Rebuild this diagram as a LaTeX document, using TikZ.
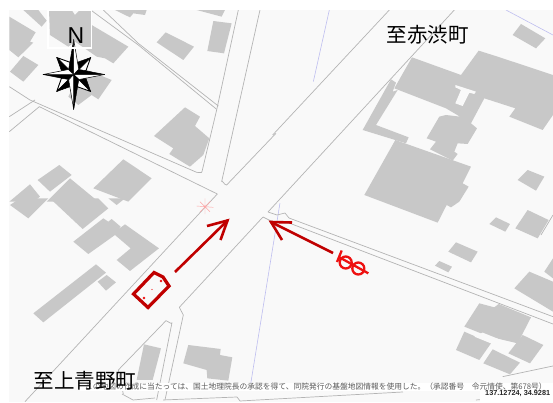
\documentclass[tikz,border=0pt]{standalone}
\usepackage{fontspec}
\setmainfont{Liberation Sans}
\newfontfamily\cjk{Noto Sans CJK JP}
\usetikzlibrary{arrows.meta}
\definecolor{mapbg}{HTML}{F9F9F9}
\definecolor{bld}{HTML}{C8C8C8}
\definecolor{roadc}{HTML}{B4B4B4}
\definecolor{arrowred}{HTML}{C00000}
\definecolor{markred}{HTML}{EE1111}
\definecolor{thinblue}{HTML}{BEBEF0}
\tikzset{
  zone/.style={shift={(#1)},x=0.3333pt,y=-0.3333pt},
  building/.style={fill=bld,draw=none},
  road/.style={draw=roadc,line width=0.7pt,line join=round},
  waterline/.style={draw=thinblue,line width=0.6pt},
  placename/.style={font=\cjk\fontsize{20.5}{22}\selectfont,text=black,inner sep=0pt},
  routearrow/.style={draw=arrowred,line width=2.6pt,line join=miter},
  starline/.style={draw=black,line width=0.5pt,line join=round},
}
\begin{document}
\begin{tikzpicture}[x=1pt,y=-1pt]
\useasboundingbox (0,0) rectangle (553,402);
\fill[white] (0,0) rectangle (553,402);
\begin{scope}
\clip (9,10) rectangle (553,402);
\fill[mapbg] (9,10) rectangle (553,402);
% top-left quadrant
\begin{scope}[zone={0,0}]
\fill[building] (28,50)--(107,97)--(90,125)--(100,128)--(55,172)--(28,150)--cycle;
\fill[building] (70,30)--(125,80)--(140,62)--(115,30)--cycle;
\fill[building] (30,215)--(70,168)--(115,195)--(70,245)--cycle;
\fill[building] (147,30)--(215,30)--(225,45)--(240,30)--(275,30)--(275,75)--(385,140)--(340,190)--(315,175)--(290,170)--(225,125)--(205,140)--(150,105)--cycle;
\fill[building] (250,205)--(335,240)--(295,298)--(275,285)--(235,315)--(205,290)--cycle;
\fill[building] (470,127)--(497,97)--(582,140)--(550,180)--cycle;
\fill[building] (622,153)--(640,63)--(695,70)--(672,160)--cycle;
\fill[building] (345,30)--(440,30)--(435,45)--(400,40)--(390,52)--cycle;
\fill[building] (590,30)--(675,30)--(665,50)--cycle;
\fill[building] (462,408)--(555,322)--(600,350)--(585,378)--(628,415)--(610,465)--(570,500)--(508,462)--(520,445)--cycle;
\fill[building] (113,540)--(178,495)--(215,525)--(150,575)--cycle;
\fill[building] (140,605)--(210,535)--(295,605)--cycle;
\fill[building] (280,565)--(370,478)--(455,535)--(385,605)--cycle;
\fill[building] (28,605)--(90,553)--(120,590)--(100,605)--cycle;
\draw[road] (28,260)--(90,300)--(590,517)to[out=15,in=-100](606,515)--(650,330)--(715,30);
\draw[road] (310,30)--(415,130)--(655,318);
\draw[road] (275,32)--(415,135)--(650,328);
\draw[road] (28,350)--(105,300);
\draw[road] (28,395)--(118,320)--(652,582);
\draw[road] (780,30)--(665,545)to[out=80,in=190](680,555)--(828,400);
\end{scope}
% top-right quadrant
\begin{scope}[zone={276,0}]
\draw[waterline] (160,30)--(112,245);
\draw[waterline] (690,30)--(831,105);
\draw[road] (-10,405)--(340,30);
\draw[road] (-24,636)--(535,30);
\fill[building] (710,105)--(735,72)--(808,115)--(780,145)--cycle;
\fill[building] (355,265)--(408,172)--(555,225)--(608,152)--(665,170)--(831,225)--(831,345)--(800,390)--(700,350)--(718,325)--(625,295)--(585,370)--(603,385)--(575,432)--(545,430)--(535,455)--(545,462)--(530,482)--(462,448)--(480,425)--(452,415)--(490,350)--(510,345)--(552,350)--(510,325)--cycle;
\fill[mapbg] (538,255)--(600,275)--(595,282)--(580,278)--(560,318)--(538,310)--(555,270)--(538,262)--cycle;
\fill[building] (345,238)--(360,248)--(350,275)--(365,270)--(300,375)--(398,412)--(390,430)--(260,390)--cycle;
\fill[building] (358,420)--(585,500)--(560,550)--(578,560)--(550,605)--(525,622)--(512,615)--(485,668)--(265,585)--cycle;
\fill[building] (725,540)--(755,510)--(805,530)--(780,572)--cycle;
\end{scope}
% bottom-left quadrant
\begin{scope}[zone={0,200}]
\fill[building] (30,15)--(60,-5)--(145,-5)--(85,55)--cycle;
\fill[building] (150,-5)--(295,-5)--(325,25)--(248,87)--cycle;
\fill[building] (325,-5)--(375,-5)--(350,15)--cycle;
\fill[building] (220,125)--(310,55)--(325,65)--(335,57)--(362,80)--(355,88)--(375,73)--(477,145)--(390,213)--(350,180)--(392,145)--(345,105)--(265,162)--cycle;
\fill[building] (100,340)--(288,193)--(318,218)--(130,367)--cycle;
\fill[building] (293,245)--(320,225)--(348,247)--(318,272)--cycle;
\fill[building] (410,540)--(432,433)--(483,445)--(458,540)--cycle;
\fill[building] (550,490)--(565,435)--(662,447)--(660,465)--(697,472)--(685,542)--(622,535)--(620,510)--cycle;
\draw[road] (75,605)--(652,-18);
\draw[road] (495,600)--(550,345)--(538,322)--(789,51);
\draw[road] (370,582)--(355,510)--(498,362)to[out=-20,in=-80](516,368)--(470,600);
\draw[waterline] (750,565)--(840,9);
\draw[draw=red!35,line width=0.45pt] (590,18)--(640,22) (615,-5)--(615,42) (600,5)--(630,35) (632,3)--(600,36);
\end{scope}
% bottom-right quadrant
\begin{scope}[zone={276,200}]
\fill[building] (640,72)--(660,52)--(702,72)--(688,95)--cycle;
\fill[building] (718,85)--(755,30)--(818,60)--(785,115)--cycle;
\fill[building] (517,155)--(540,127)--(605,155)--(585,187)--cycle;
\fill[building] (477,197)--(490,183)--(528,200)--(517,217)--cycle;
\fill[building] (715,265)--(760,215)--(831,245)--(831,335)--cycle;
\fill[building] (805,215)--(831,175)--(831,235)--cycle;
\fill[building] (565,380)--(610,310)--(655,322)--(668,312)--(765,352)--(725,430)--(640,410)--cycle;
\fill[building] (540,450)--(565,395)--(645,430)--(610,480)--cycle;
\fill[building] (622,490)--(650,448)--(732,488)--(702,523)--cycle;
\fill[building] (697,460)--(740,405)--(802,435)--(762,490)--cycle;
\fill[mapbg] (595,410)--(620,398)--(705,432)--(695,450)--cycle;
\draw[road] (-24,36)--(3,45)--(27,39)--(39,54)--(831,350);
\draw[road] (-39,51)--(-9,66)--(42,70)--(831,372);
\draw[road] (795,105)--(831,45);
\draw[road] (680,530)--(831,498);
\draw[road] (-339,600)--(-117,591)--(-108,603)--(381,576);
\draw[road] (-462,582)--(-429,600)--(-363,594);
\draw[road] (600,600)--(831,580);
\end{scope}
% licence band
\fill[white] (80,383) rectangle (553,391);
\fill[white] (480,391) rectangle (553,402);
\end{scope}
\node[anchor=west,inner sep=0pt,text=black!65,font=\cjk\fontsize{7.75}{9}\selectfont] (licence) at (85,386.5) {この地図の作成に当たっては、国土地理院長の承認を得て、同院発行の基盤地図情報を使用した。（承認番号　令元情使、第678号）};
\node[anchor=west,inner sep=0pt,text=black!85,font=\bfseries\fontsize{7.3}{8}\selectfont] (latlon) at (485,394) {137.12724, 34.9281};
% compass
\begin{scope}[shift={(73.7,74.5)},x=0.3333pt,y=-0.3333pt]
\foreach \a in {45,135,225,315}{
 \begin{scope}[rotate=\a]
  \fill[black,starline] (0,0)--(72,0)--(34,-18)--cycle;
  \fill[white,starline,line width=0.9pt] (0,0)--(72,0)--(34,18)--cycle;
 \end{scope}}
\foreach \a/\r in {0/93,90/105,180/92,270/105}{
 \begin{scope}[rotate=\a]
  \fill[black,starline] (0,0)--(\r,0)--(16,-15)--cycle;
  \fill[white,starline] (0,0)--(\r,0)--(16,15)--cycle;
 \end{scope}}
\end{scope}
\draw[white,line width=1.2pt] (48,10) rectangle (91.5,48);
\node[font=\fontsize{23}{24}\selectfont,inner sep=0pt,text=black] (north) at (76,36) {N};
\node[placename] (east) at (427.5,34.5) {至赤渋町};
\node[placename] (south) at (85,380.5) {至上青野町};
% route marks
\coordinate (carTailA) at (175,272);
\coordinate (carTipA) at (227.5,220.5);
\coordinate (carTailB) at (333,253);
\coordinate (carTipB) at (271,222);
\draw[routearrow] (carTailA)--(carTipA);
\draw[routearrow] (207,226)--(carTipA)--(220.5,240);
\draw[routearrow] (carTailB)--(carTipB);
\draw[routearrow] (292,222.5)--(carTipB)--(282,240);
\draw[draw=arrowred,line width=3.2pt,line join=miter] (133.5,294)--(154,272.5)--(163,277)--(169,286)--(148,307.5)--cycle;
\fill[markred] (161,281) circle (1.3pt) (144,298) circle (1.3pt) (152,289.5) circle (0.7pt);
\draw[markred,line width=2.3pt] (341.7,250.5)--(337,262);
\draw[markred,line width=2.3pt] (345.7,262.5) circle (6pt);
\draw[markred,line width=2.3pt] (358.3,268.5) circle (6pt);
\draw[markred,line width=2.3pt] (338.3,256.7)--(368.3,273.3);
\end{tikzpicture}
\end{document}
